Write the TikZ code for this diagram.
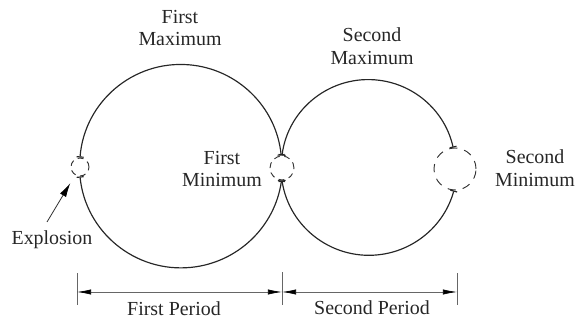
\documentclass[tikz,border=0pt]{standalone}
\usepackage{fontspec}
\setmainfont{Liberation Serif}
\usetikzlibrary{arrows.meta, positioning}

\begin{document}
\begin{tikzpicture}[
        x=0.03cm, y=0.03cm,
        every node/.style={font=\fontsize{17}{19.5}\selectfont, text=black!85},
        txt/.style={align=center},
        bubble/.style={circle, draw, dash pattern=on 5pt off 4pt, thick, black!80, inner sep=0pt},
        wall/.style={line width=1pt, black!85, {Bar[width=6pt]}-{Bar[width=6pt]}},
        span/.style={{Latex[length=12pt,width=4.5pt,color=black]}-{Latex[length=12pt,width=4.5pt,color=black]}, black!60, line width=0.6pt},
        tick/.style={black!60, line width=0.6pt},
        pointer/.style={-{Latex[length=12pt,width=6pt,color=black]}, black!80, line width=0.7pt}
    ]
    \useasboundingbox (0,0) rectangle (582,320);

    % Nodes
    \node[bubble, minimum size=0.54cm] (expl) at (80,153) {};
    \node[bubble, minimum size=0.72cm] (fmin) at (282,152) {};
    \node[bubble, minimum size=1.26cm, dash pattern=on 7pt off 6pt] (smin) at (455,151) {};

    \node[txt] (fmax) at (180,292) {First\\Maximum};
    \node[txt] (smax) at (372,274) {Second\\Maximum};
    \node[txt] (fminl) at (222,151) {First\\Minimum};
    \node[txt] (sminl) at (535,152) {Second\\Minimum};
    \node (boom) at (52,80) {Explosion};
    \coordinate (tail) at (47,98);

    \coordinate (t1) at (77,28);
    \coordinate (t2) at (282,28);
    \coordinate (t3) at (457,28);
    \node (p1) at (174,11) {First Period};
    \node (p2) at (372,12) {Second Period};

    % Bubble walls
    \draw[wall] (expl.north) arc[start angle=175.5, end angle=5.7, radius=101];
    \draw[wall] (expl.south) arc[start angle=185.7, end angle=352, radius=101.5];
    \draw[wall] (fmin.north) arc[start angle=172.7, end angle=12.6, radius=87];
    \draw[wall] (fmin.south) arc[start angle=188.6, end angle=344.7, radius=88];

    % Edges
    \draw[pointer, shorten >=8pt] (tail) -- (expl);
    \draw[tick] (77,15) -- (77,47);
    \draw[tick] (282,15) -- (282,48);
    \draw[tick] (457,15) -- (457,47);
    \draw[span] (t1) -- (t2);
    \draw[span] (t2) -- (t3);

\end{tikzpicture}
\end{document}
